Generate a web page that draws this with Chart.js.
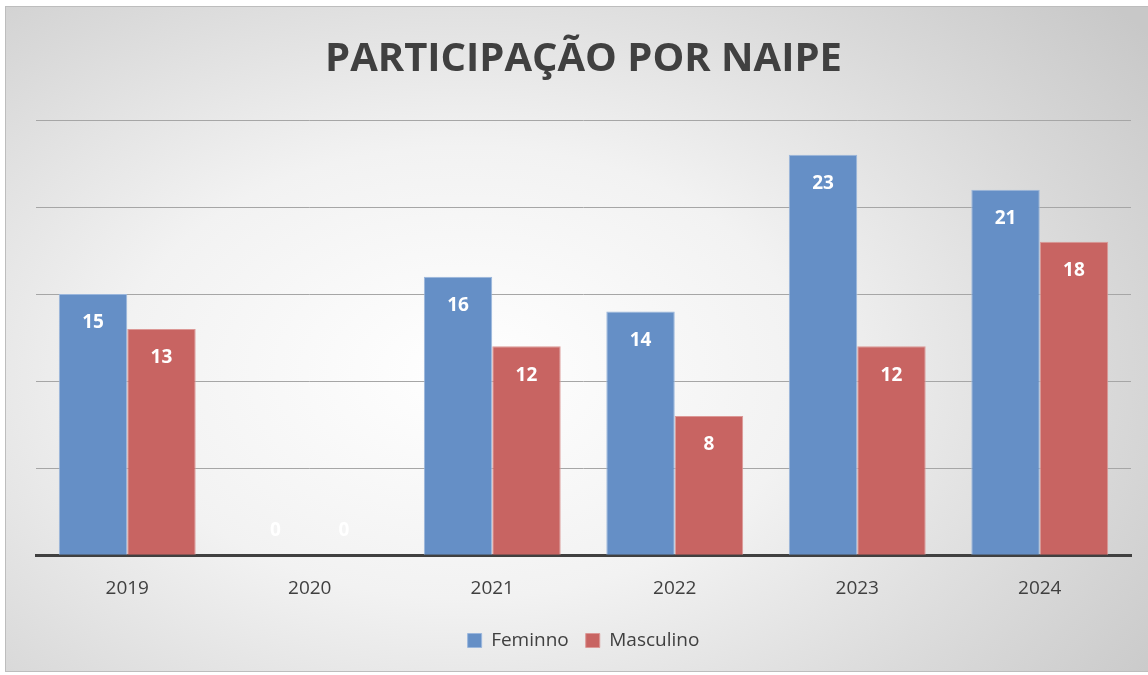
<!DOCTYPE html>
<html>
<head>
<meta charset="utf-8">
<script src="https://cdn.jsdelivr.net/npm/chart.js@4.4.0/dist/chart.umd.min.js"></script>
<style>
  html, body { margin: 0; padding: 0; background: #fff; }
  #box {
    position: absolute; left: 5px; top: 6px; width: 1145px; height: 666px;
    border: 1px solid #bdbdbd; box-sizing: border-box;
    background: radial-gradient(ellipse 75% 85% at 40% 55%, #ffffff 0%, #f2f2f2 40%, #d9d9d9 75%, #c8c8c8 100%);
  }
  canvas { display: block; }
</style>
</head>
<body>
<div id="box"><canvas id="c" width="1143" height="664"></canvas></div>
<script>
// データ
const years = ["2019", "2020", "2021", "2022", "2023", "2024"];
const feminino = [15, 0, 16, 14, 23, 21];
const masculino = [13, 0, 12, 8, 12, 18];

const FONT = "'Open Sans', 'Liberation Sans', sans-serif";

// バー内の数値ラベル
const valueLabels = {
  id: "valueLabels",
  afterDatasetsDraw(chart) {
    const ctx = chart.ctx;
    ctx.save();
    ctx.font = "bold 19px " + FONT;
    ctx.fillStyle = "#ffffff";
    ctx.textAlign = "center";
    ctx.textBaseline = "middle";
    chart.data.datasets.forEach((ds, i) => {
      const meta = chart.getDatasetMeta(i);
      meta.data.forEach((bar, j) => {
        const v = ds.data[j];
        const y = v === 0 ? bar.base - 25 : bar.y + 29;
        ctx.fillText(String(v), bar.x, y);
      });
    });
    ctx.restore();
  }
};

new Chart(document.getElementById("c"), {
  type: "bar",
  data: {
    labels: years,
    datasets: [
      {
        label: "Feminno",
        data: feminino,
        backgroundColor: "#658fc6",
        borderColor: "#9ab6dc",
        borderWidth: 1,
        categoryPercentage: 0.75,
        barPercentage: 1.0
      },
      {
        label: "Masculino",
        data: masculino,
        backgroundColor: "#c86462",
        borderColor: "#dc9896",
        borderWidth: 1,
        categoryPercentage: 0.75,
        barPercentage: 1.0
      }
    ]
  },
  options: {
    responsive: false,
    animation: false,
    layout: { padding: { left: 30, right: 18, top: 10, bottom: 11 } },
    plugins: {
      title: {
        display: true,
        text: "PARTICIPAÇÃO POR NAIPE",
        color: "#404040",
        font: { family: FONT, size: 40, weight: "bold" },
        padding: { top: 19, bottom: 36 }
      },
      legend: {
        position: "bottom",
        labels: {
          color: "#404040",
          font: { family: FONT, size: 19 },
          boxWidth: 14,
          boxHeight: 14,
          padding: 17
        }
      },
      tooltip: { enabled: false }
    },
    scales: {
      x: {
        grid: { display: false },
        border: { display: true, color: "#404040", width: 3 },
        ticks: { color: "#404040", font: { family: FONT, size: 19 }, padding: 14 }
      },
      y: {
        min: 0,
        max: 25,
        ticks: { display: false, stepSize: 5 },
        border: { display: false },
        grid: { color: "#a6a6a6", lineWidth: 1, drawTicks: false }
      }
    }
  },
  plugins: [valueLabels]
});
</script>
</body>
</html>
